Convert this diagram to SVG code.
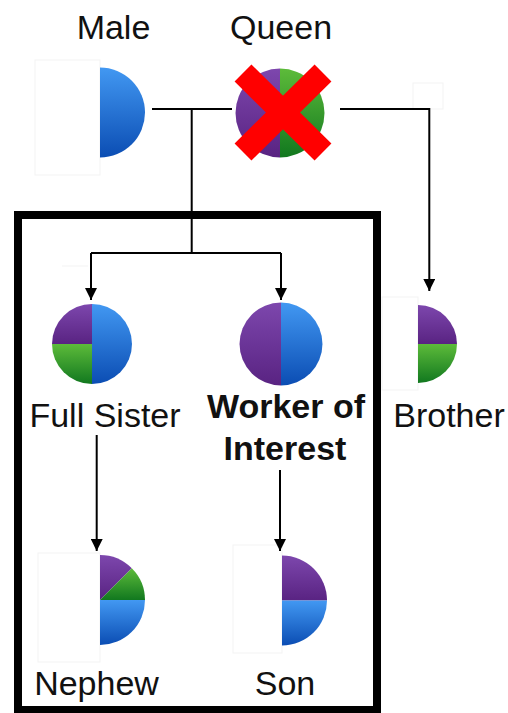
<svg xmlns="http://www.w3.org/2000/svg" width="508" height="713" viewBox="0 0 508 713">
  <style>
    .lbl { font-family: "Liberation Sans", Arial, sans-serif; font-size: 34px; fill: #111; text-anchor: middle; }
    .bold { font-weight: bold; }
    .wire { fill: none; stroke: #000; stroke-width: 2; }
    .ph { fill: none; stroke: #f3f3f3; stroke-width: 1; }
    .blue { fill: url(#gBlue); }
    .purple { fill: url(#gPurple); }
    .green { fill: url(#gGreen); }
  </style>
  <defs>
    <linearGradient id="gBlue" x1="0" y1="0" x2="0" y2="1">
      <stop offset="0" stop-color="#4298f2"/>
      <stop offset="1" stop-color="#0b4db3"/>
    </linearGradient>
    <linearGradient id="gPurple" x1="0" y1="0" x2="0" y2="1">
      <stop offset="0" stop-color="#7d47ad"/>
      <stop offset="1" stop-color="#592382"/>
    </linearGradient>
    <linearGradient id="gGreen" x1="0" y1="0" x2="0" y2="1">
      <stop offset="0" stop-color="#5dbb3a"/>
      <stop offset="1" stop-color="#11781f"/>
    </linearGradient>
    <marker id="arrow" markerUnits="userSpaceOnUse" markerWidth="12" markerHeight="12" refX="12" refY="6" orient="auto">
      <path d="M0,0 L12,6 L0,12 Z" fill="#000"/>
    </marker>
  </defs>

  <rect width="508" height="713" fill="#fff"/>

  <!-- faint image frames -->
  <g id="frames">
    <rect class="ph" x="35" y="60" width="65" height="115"/>
    <rect class="ph" x="413" y="83" width="30" height="26"/>
    <rect class="ph" x="382" y="297" width="36" height="93"/>
    <rect class="ph" x="38" y="553" width="62" height="109"/>
    <rect class="ph" x="233" y="545" width="49" height="108"/>
    <line class="ph" x1="62" y1="266" x2="88" y2="266"/>
  </g>

  <!-- highlighted family box -->
  <rect id="family-box" x="18" y="215" width="359" height="495" fill="none" stroke="#000" stroke-width="8"/>

  <!-- connectors -->
  <g id="connectors">
    <path class="wire" d="M152,109 H232"/>
    <path class="wire" d="M191.7,109 V253"/>
    <path class="wire" d="M91,253 H281"/>
    <path class="wire" d="M91,253 V300" marker-end="url(#arrow)"/>
    <path class="wire" d="M281,253 V300" marker-end="url(#arrow)"/>
    <path class="wire" d="M340,109 H429.3 V291" marker-end="url(#arrow)"/>
    <path class="wire" d="M96.7,435 V551" marker-end="url(#arrow)"/>
    <path class="wire" d="M280,470 V551" marker-end="url(#arrow)"/>
  </g>

  <g id="male">
    <path class="blue" d="M100,67.5 A45,45 0 0 1 100,157.5 Z"/>
    <text class="lbl" x="113.5" y="38.5">Male</text>
  </g>

  <g id="queen">
    <path class="purple" d="M280,68.5 A44.5,44.5 0 0 0 280,157.5 Z"/>
    <path class="green" d="M280,68.5 A44.5,44.5 0 0 1 280,157.5 Z"/>
    <path d="M243,73 L323,152 M323,73 L243,152" stroke="#ff0000" stroke-width="24" fill="none"/>
    <text class="lbl" x="281" y="38.5">Queen</text>
  </g>

  <g id="full-sister">
    <path class="purple" d="M92,344 L52,344 A40,40 0 0 1 92,304 Z"/>
    <path class="green" d="M92,344 L92,384 A40,40 0 0 1 52,344 Z"/>
    <path class="blue" d="M92,304 A40,40 0 0 1 92,384 Z"/>
    <text class="lbl" x="105" y="427">Full Sister</text>
  </g>

  <g id="worker">
    <path class="purple" d="M281,302.5 A41.5,41.5 0 0 0 281,385.5 Z"/>
    <path class="blue" d="M281,302.5 A41.5,41.5 0 0 1 281,385.5 Z"/>
    <text class="lbl bold" x="286" y="418">Worker of</text>
    <text class="lbl bold" x="285" y="460">Interest</text>
  </g>

  <g id="brother">
    <path class="purple" d="M418,344 L418,305 A39,39 0 0 1 457,344 Z"/>
    <path class="green" d="M418,344 L457,344 A39,39 0 0 1 418,383 Z"/>
    <text class="lbl" x="449" y="427">Brother</text>
  </g>

  <g id="nephew">
    <path class="purple" d="M100,600 L131.8,568.2 A45,45 0 0 0 100,555 Z"/>
    <path class="green" d="M100,600 L145,600 A45,45 0 0 0 131.8,568.2 Z"/>
    <path class="blue" d="M100,600 L145,600 A45,45 0 0 1 100,645 Z"/>
    <text class="lbl" x="96.5" y="695">Nephew</text>
  </g>

  <g id="son">
    <path class="purple" d="M282,600.5 L282,555.5 A45,45 0 0 1 327,600.5 Z"/>
    <path class="blue" d="M282,600.5 L327,600.5 A45,45 0 0 1 282,645.5 Z"/>
    <text class="lbl" x="285" y="695">Son</text>
  </g>
</svg>
